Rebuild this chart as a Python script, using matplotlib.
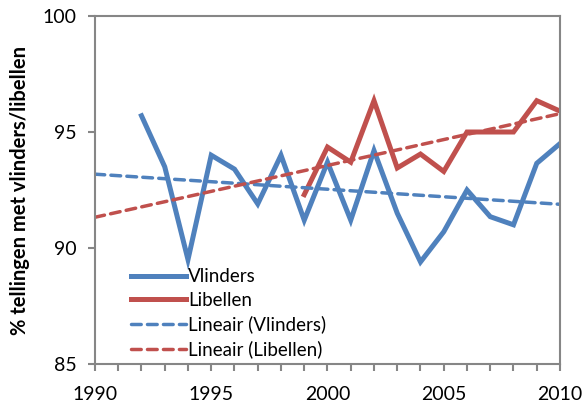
import numpy as np
import matplotlib
matplotlib.use("Agg")
import matplotlib.pyplot as plt

plt.rcParams['font.family'] = ['Lato', 'DejaVu Sans']

years_v = [1992, 1993, 1994, 1995, 1996, 1997, 1998, 1999, 2000, 2001,
           2002, 2003, 2004, 2005, 2006, 2007, 2008, 2009, 2010]
vlinders = [95.7, 93.5, 89.5, 94.0, 93.4, 91.9, 94.0, 91.2, 93.7, 91.2,
            94.2, 91.5, 89.4, 90.7, 92.5, 91.35, 91.0, 93.65, 94.5]
years_l = [1999, 2000, 2001, 2002, 2003, 2004, 2005, 2006, 2007, 2008, 2009, 2010]
libellen = [92.3, 94.35, 93.7, 96.35, 93.45, 94.05, 93.3, 95.0, 95.0, 95.0, 96.35, 95.9]

xticks = [1990, 1995, 2000, 2005, 2010]
yticks = [85, 90, 95, 100]

blue = '#4F81BD'
red = '#C0504D'
grey = '#868686'

fig = plt.figure(figsize=(5.82, 4.05), dpi=100)
ax = fig.add_axes([0.1632, 0.1012, 0.7990, 0.8593])

ax.plot(years_v, vlinders, color=blue, lw=3.6, solid_joinstyle='miter', label='Vlinders')
ax.plot(years_l, libellen, color=red, lw=3.6, solid_joinstyle='miter', label='Libellen')

xt = np.array([1990, 2010])
pv = np.polyfit(years_v, vlinders, 1)
pl = np.polyfit(years_l, libellen, 1)
ax.plot(xt, np.polyval(pv, xt), color=blue, lw=2.5, ls=(0, (2.8, 1.8)),
        dash_capstyle='round', label='Lineair (Vlinders)')
ax.plot(xt, np.polyval(pl, xt), color=red, lw=2.5, ls=(0, (2.8, 1.8)),
        dash_capstyle='round', label='Lineair (Libellen)')

ax.set_xlim(1990, 2010)
ax.set_ylim(85, 100)
ax.set_xticks(xticks)
ax.set_xticks(range(1990, 2011), minor=True)
ax.set_yticks(yticks)
for s in ax.spines.values():
    s.set_color(grey)
    s.set_linewidth(1.5)
ax.tick_params(axis='both', which='both', color=grey, width=1.5, length=5,
               direction='out', labelsize=14, labelcolor='black')
ax.tick_params(axis='x', pad=11)
ax.tick_params(axis='y', pad=8)
ax.tick_params(axis='x', which='minor', length=5)

ax.set_ylabel('% tellingen met vlinders/libellen', fontsize=14.5, fontweight='bold', labelpad=9)

leg = ax.legend(loc='lower left', bbox_to_anchor=(0.062, -0.005), frameon=False,
                fontsize=13.5, handlelength=2.9, handletextpad=0.12, labelspacing=0.36,
                borderaxespad=0)

fig.savefig('out.png', dpi=100)
